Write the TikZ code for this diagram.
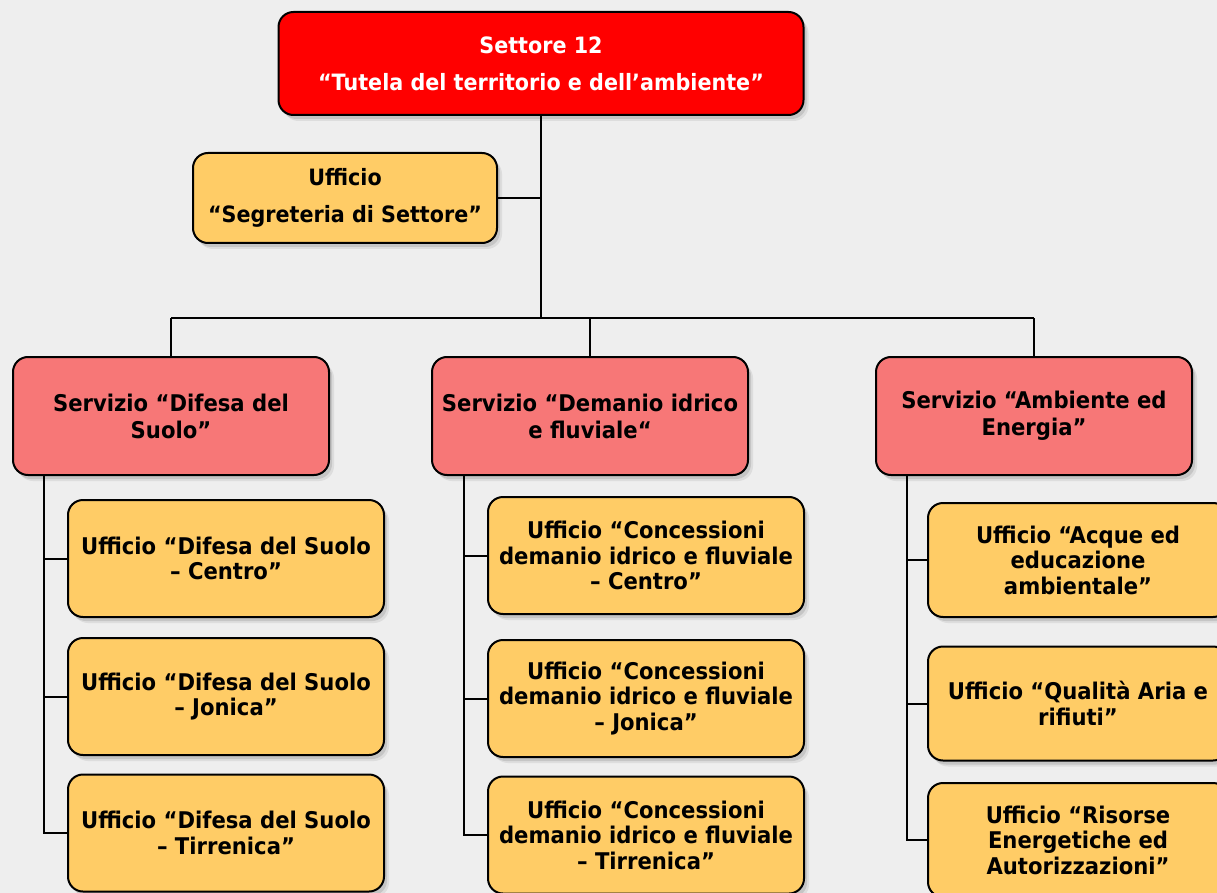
\documentclass[tikz,border=0pt]{standalone}
\usepackage{fontspec}
\setmainfont{DejaVu Sans}[FakeStretch=0.92]
\usepackage{tikz}
\usetikzlibrary{positioning, shadows, calc}

\definecolor{paper}{RGB}{238,238,238}
\definecolor{settorered}{RGB}{255,0,0}
\definecolor{serviziored}{RGB}{247,119,119}
\definecolor{ufficioyellow}{RGB}{255,204,102}

\begin{document}
\begin{tikzpicture}[
  x=1pt, y=-1pt,
  box/.style={
    rectangle, rounded corners=15pt,
    draw=black, line width=2pt, align=center,
    inner sep=0pt,
    drop shadow={opacity=0.15, shadow xshift=5pt, shadow yshift=-6pt},
    drop shadow={opacity=0.25, shadow xshift=3pt, shadow yshift=-4pt}
  },
  settore/.style={
    box, fill=settorered, text=white,
    minimum width=525pt, minimum height=103pt,
    font=\bfseries\fontsize{22.5}{37}\selectfont
  },
  segreteria/.style={
    box, fill=ufficioyellow,
    minimum width=304pt, minimum height=90pt,
    font=\bfseries\fontsize{22.5}{37}\selectfont
  },
  servizio/.style={
    box, fill=serviziored,
    minimum width=316pt, minimum height=118pt,
    font=\bfseries\fontsize{23}{27}\selectfont
  },
  ufficio/.style={
    box, fill=ufficioyellow,
    minimum width=316pt, minimum height=117pt,
    font=\bfseries\fontsize{23}{25.5}\selectfont
  },
  link/.style={draw=black, line width=2pt}
]
% paper
\fill[paper] (0,0) rectangle (1217,893);
\useasboundingbox (0,0) rectangle (1217,893);

% top of the chart
\node [settore] (settore) at (541,63.5) {Settore 12\\ “Tutela del territorio e dell’ambiente”};
\node [segreteria] (segreteria) at (345,198) {Ufficio\\ “Segreteria di Settore”};
\coordinate (bus) at (541,318);

% servizi
\node [servizio] (suolo) at (171,416) {Servizio “Difesa del\\ Suolo”};
\node [servizio] (demanio) at (590,416) {Servizio “Demanio idrico\\ e fluviale“};
\node [servizio] (ambiente) at (1034,416) {Servizio “Ambiente ed\\ Energia”};

% uffici
\node [ufficio] (suoloC) at (226,558.5) {Ufficio “Difesa del Suolo\\ – Centro”};
\node [ufficio] (suoloJ) at (226,696.5) {Ufficio “Difesa del Suolo\\ – Jonica”};
\node [ufficio] (suoloT) at (226,833) {Ufficio “Difesa del Suolo\\ – Tirrenica”};

\node [ufficio] (demanioC) at (646,555.5) {Ufficio “Concessioni\\ demanio idrico e fluviale\\ – Centro”};
\node [ufficio] (demanioJ) at (646,698.5) {Ufficio “Concessioni\\ demanio idrico e fluviale\\ – Jonica”};
\node [ufficio] (demanioT) at (646,835) {Ufficio “Concessioni\\ demanio idrico e fluviale\\ – Tirrenica”};

\node [ufficio, minimum width=300pt, minimum height=114pt] (acque) at (1078,560) {Ufficio “Acque ed\\ educazione\\ ambientale”};
\node [ufficio, minimum width=300pt, minimum height=114pt] (aria) at (1078,703.5) {Ufficio “Qualità Aria e\\ rifiuti”};
\node [ufficio, minimum width=300pt, minimum height=114pt] (risorse) at (1078,840) {Ufficio “Risorse\\ Energetiche ed\\ Autorizzazioni”};

% connectors
\draw [link] (settore.south) -- (bus);
\draw [link] (segreteria.east) -- (segreteria.east -| bus);
\draw [link] (suolo.north |- bus) -- (ambiente.north |- bus);
\draw [link] (suolo.north |- bus) -- (suolo.north);
\draw [link] (demanio.north |- bus) -- (demanio.north);
\draw [link] (ambiente.north |- bus) -- (ambiente.north);

\coordinate (spineS) at ($(suolo.south west)+(32,0)$);
\coordinate (spineD) at ($(demanio.south west)+(33,0)$);
\coordinate (spineA) at ($(ambiente.south west)+(32,0)$);

\draw [link] (spineS) |- (suoloT.west);
\draw [link] (spineS |- suoloC.west) -- (suoloC.west);
\draw [link] (spineS |- suoloJ.west) -- (suoloJ.west);

\draw [link] (spineD) |- (demanioT.west);
\draw [link] (spineD |- demanioC.west) -- (demanioC.west);
\draw [link] (spineD |- demanioJ.west) -- (demanioJ.west);

\draw [link] (spineA) |- (risorse.west);
\draw [link] (spineA |- acque.west) -- (acque.west);
\draw [link] (spineA |- aria.west) -- (aria.west);
\end{tikzpicture}
\end{document}
